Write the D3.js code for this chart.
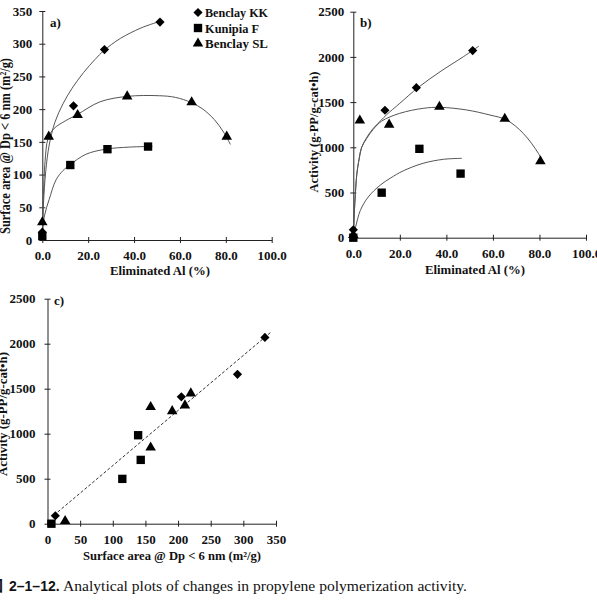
<!DOCTYPE html>
<html><head><meta charset="utf-8">
<script src="https://cdn.jsdelivr.net/npm/d3@7"></script>
<style>
html,body{margin:0;padding:0;background:#fff;}
svg{display:block;}
.tick text{font-family:"Liberation Serif",serif;font-weight:bold;font-size:13px;fill:#111;}
</style></head>
<body>
<script>
// ---- data ----
const seriesNames = ["Benclay KK", "Kunipia F", "Benclay SL"];
const kkAl = [0, 13.6, 27.1, 51.3];
const kkSurface = [12, 205, 291, 333];
const kkActivity = [88, 1410, 1660, 2070];
const kuAl = [0, 12.2, 28.4, 46.1];
const kuSurface = [6, 114.6, 138.8, 142.8];
const kuActivity = [0, 498, 983, 709];
const slAl = [0, 2.8, 15.4, 37, 65.1, 80.4];
const slSurface = [27, 158, 191, 219.5, 210.5, 158];
const slActivity = [30, 1296, 1250, 1448, 1315, 846];
// trend curves
const trendA_KK = [[0,10],[0.5,55],[1.5,105],[3,145],[5.5,180],[9,208],[13,232],[18,256],[23,276],[27,290],[34,308],[43,324],[52,335]];
const trendA_KU = [[0,10],[1,38],[3,62],[6,92],[9,106],[12.1,115],[19,131],[28,139],[38,142],[48,143]];
const trendA_SL = [[0,10],[0.5,70],[1.2,120],[2.5,155],[5,170],[10,182],[15.4,192],[25,211],[37,219.5],[51,220.5],[58,218],[65,210],[70,200],[75,184],[79,165],[82,146]];
const trendB_KK = [[0,50],[0.7,400],[1.5,700],[2.5,870],[3.6,1000],[5.8,1110],[8.6,1210],[12,1300],[14.3,1360],[20,1487],[28,1664],[37.3,1836],[47.3,2002],[54,2120]];
const trendB_KU = [[0,20],[1,120],[3,300],[6.4,450],[11.5,580],[16,660],[21.5,740],[30,823],[38.7,867],[46.6,878]];
const trendB_SL = [[0,50],[0.7,400],[1.5,700],[2.5,870],[3.6,1000],[5.8,1100],[8.6,1200],[12.2,1290],[20,1376],[30,1431],[37.3,1442],[48.7,1413],[58.7,1357],[65.9,1302],[73,1155],[79.5,934],[81.6,823]];
const fitC = [[10, 95], [343, 2133]];
const alTicks = [0, 20, 40, 60, 80, 100];
const surfTicks = [0, 50, 100, 150, 200, 250, 300, 350];
const actTicks = [0, 500, 1000, 1500, 2000, 2500];

const svg = d3.select("body").append("svg").attr("width", 597).attr("height", 600);
const SERIF = '"Liberation Serif", "Times New Roman", serif';

const shapes = {
  kk: d3.symbol().type(d3.symbolSquare).size(42),
  ku: d3.symbol().type(d3.symbolSquare).size(70),
  sl: d3.symbol().type(d3.symbolTriangle).size(48)
};
function drawPoints(g, xs, ys, x, y, key) {
  g.selectAll(null).data(xs.map((v, i) => [v, ys[i]])).join("path")
    .attr("d", shapes[key]())
    .attr("fill", "#000")
    .attr("transform", d => `translate(${x(d[0])},${y(d[1])})` + (key === "kk" ? " rotate(45)" : ""));
}
function drawCurve(g, pts, x, y) {
  g.append("path").datum(pts)
    .attr("d", d3.line().x(d => x(d[0])).y(d => y(d[1])).curve(d3.curveCatmullRom.alpha(0.5)))
    .attr("fill", "none").attr("stroke", "#555").attr("stroke-width", 1);
}
function drawAxes(g, x, y, xt, yt, xfmt, ypad) {
  const gx = g.append("g").attr("transform", `translate(0,${y.range()[0]})`)
    .call(d3.axisBottom(x).tickValues(xt).tickFormat(xfmt).tickSizeOuter(0).tickSizeInner(3).tickPadding(8));
  gx.selectAll(".tick line").attr("y1", -3).attr("y2", 3);
  const gy = g.append("g").attr("transform", `translate(${x.range()[0]},0)`)
    .call(d3.axisLeft(y).tickValues(yt).tickFormat(d3.format("d")).tickSizeOuter(0).tickSizeInner(3).tickPadding(ypad));
  gy.selectAll(".tick line").attr("x1", -3).attr("x2", 3);
  [gx, gy].forEach(a => { a.select(".domain").attr("stroke", "#222"); a.selectAll(".tick line").attr("stroke", "#222"); });
}
function label(x, y, txt, opts = {}) {
  const t = svg.append("text").attr("x", x).attr("y", y)
    .attr("font-family", SERIF).attr("font-weight", "bold")
    .attr("font-size", opts.size || 12.5).attr("fill", "#111")
    .attr("text-anchor", opts.anchor || "start").text(txt);
  if (opts.len) t.attr("textLength", opts.len).attr("lengthAdjust", "spacingAndGlyphs");
  if (opts.rotate) t.attr("transform", `rotate(-90,${x},${y})`);
  return t;
}

// ---- chart a ----
const xa = d3.scaleLinear().domain([0, 100]).range([42.3, 271.7]);
const ya = d3.scaleLinear().domain([0, 350]).range([240, 11]);
const ga = svg.append("g");
drawAxes(ga, xa, ya, alTicks, surfTicks, d3.format(".1f"), 7);
drawCurve(ga, trendA_KK, xa, ya);
drawCurve(ga, trendA_KU, xa, ya);
drawCurve(ga, trendA_SL, xa, ya);
drawPoints(ga, slAl, slSurface, xa, ya, "sl");
drawPoints(ga, kuAl, kuSurface, xa, ya, "ku");
drawPoints(ga, kkAl, kkSurface, xa, ya, "kk");
label(50, 27, "a)", {size: 13});
label(160, 275, "Eliminated Al (%)", {anchor: "middle", size: 13, len: 100});
label(10, 146, "Surface area @ Dp < 6 nm  (m²/g)", {anchor: "middle", rotate: true, size: 14, len: 176});

// legend
const lg = svg.append("g");
["kk", "ku", "sl"].forEach((k, i) => {
  const cy = 12.5 + i * 15.5;
  lg.append("path").attr("d", shapes[k]()).attr("fill", "#000")
    .attr("transform", `translate(198,${cy})` + (k === "kk" ? " rotate(45)" : ""));
  label(205, cy + 4.5, seriesNames[i], {size: 13, len: i === 1 ? 54 : 63});
});

// ---- chart b ----
const xb = d3.scaleLinear().domain([0, 100]).range([353.3, 586]);
const yb = d3.scaleLinear().domain([0, 2500]).range([237.7, 11.7]);
const gb = svg.append("g");
drawAxes(gb, xb, yb, alTicks, actTicks, d3.format(".1f"), 6);
drawCurve(gb, trendB_KK, xb, yb);
drawCurve(gb, trendB_KU, xb, yb);
drawCurve(gb, trendB_SL, xb, yb);
drawPoints(gb, slAl, slActivity, xb, yb, "sl");
drawPoints(gb, kuAl, kuActivity, xb, yb, "ku");
drawPoints(gb, kkAl, kkActivity, xb, yb, "kk");
label(360, 27, "b)", {size: 13});
label(475, 274, "Eliminated Al (%)", {anchor: "middle", size: 13, len: 100});
label(318, 132, "Activity  (g-PP/g-cat•h)", {anchor: "middle", rotate: true, size: 13, len: 121});

// ---- chart c ----
const xc = d3.scaleLinear().domain([0, 350]).range([47.5, 276]);
const yc = d3.scaleLinear().domain([0, 2500]).range([523.7, 298.7]);
const gc = svg.append("g");
drawAxes(gc, xc, yc, surfTicks, actTicks, d3.format("d"), 9);
gc.append("path").datum(fitC)
  .attr("d", d3.line().x(d => xc(d[0])).y(d => yc(d[1])))
  .attr("fill", "none").attr("stroke", "#333").attr("stroke-width", 1).attr("stroke-dasharray", "3,2");
drawPoints(gc, slSurface, slActivity, xc, yc, "sl");
drawPoints(gc, kuSurface, kuActivity, xc, yc, "ku");
drawPoints(gc, kkSurface, kkActivity, xc, yc, "kk");
label(54, 305, "c)", {size: 13});
label(172, 560, "Surface area @ Dp < 6 nm (m²/g)", {anchor: "middle", size: 12.5, len: 178});
label(7, 414, "Activity  (g-PP/g-cat•h)", {anchor: "middle", rotate: true, size: 13, len: 124});

// ---- caption ----
const cap = svg.append("text").attr("y", 591).attr("font-size", 15).attr("fill", "#111");
cap.append("tspan").attr("x", -12).attr("font-family", '"Noto Sans CJK JP", sans-serif').attr("font-weight", "bold").text("図");
cap.append("tspan").attr("x", 9).attr("font-family", '"Liberation Sans", sans-serif').attr("font-weight", "bold").attr("font-size", 14).text("2–1–12.");
cap.append("tspan").attr("x", 63).attr("font-family", SERIF).attr("font-size", 15.5).attr("textLength", 404).attr("lengthAdjust", "spacingAndGlyphs").text("Analytical plots of changes in propylene polymerization activity.");
</script>
</body></html>
